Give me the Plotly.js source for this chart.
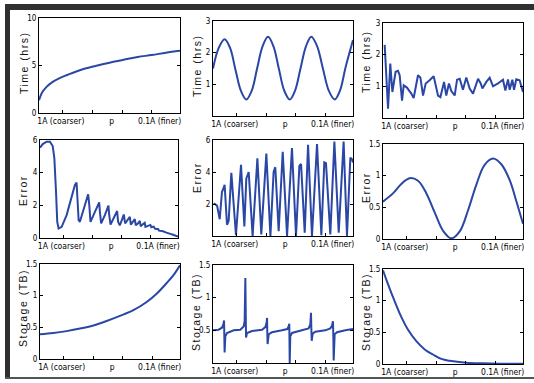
<!DOCTYPE html>
<html>
<head>
<meta charset="utf-8">
<script src="https://cdn.plot.ly/plotly-3.0.1.min.js"></script>
<style>
html,body{margin:0;padding:0;background:#fff;}
#chart{width:534px;height:383px;}
.annotation-text{letter-spacing:1.5px;}
.xtick text,.ytick text,.x2tick text,.y2tick text,.x3tick text,.y3tick text,.x4tick text,.y4tick text,.x5tick text,.y5tick text,.x6tick text,.y6tick text,.x7tick text,.y7tick text,.x8tick text,.y8tick text,.x9tick text,.y9tick text{font-stretch:condensed;}
</style>
</head>
<body>
<div id="chart"></div>
<script>
// ---------- data ----------
const xTickText = ['1A (coarser)', 'p', '0.1A (finer)'];
const xTickPos = [0.155, 0.515, 0.855];

const yTitles = ['Time (hrs)', 'Time (hrs)', 'Time (hrs)', 'Error', 'Error', 'Error', 'Storage (TB)', 'Storage (TB)', 'Storage (TB)'];

// Time, panel 1
const p1x = [0, 0.02, 0.05, 0.1, 0.15, 0.2, 0.3, 0.4, 0.5, 0.6, 0.7, 0.8, 0.9, 1.0];
const p1y = [1.35, 2.1, 2.7, 3.3, 3.7, 4.0, 4.55, 4.95, 5.3, 5.6, 5.9, 6.1, 6.35, 6.55];

// Time, panel 2
const p2x = [0, 0.041, 0.083, 0.122, 0.16, 0.199, 0.238, 0.277, 0.315, 0.354, 0.393, 0.432, 0.47, 0.509, 0.548, 0.586, 0.625, 0.664, 0.702, 0.744, 0.785, 0.827, 0.869, 0.907, 0.945, 0.975, 1.0];
const p2y = [1.5, 2.15, 2.42, 2.15, 1.47, 0.8, 0.52, 0.8, 1.5, 2.2, 2.5, 2.2, 1.5, 0.8, 0.52, 0.8, 1.5, 2.2, 2.5, 2.2, 1.5, 0.8, 0.52, 0.8, 1.5, 2.0, 2.4];

// Time, panel 3
const p3x = [0.012, 0.036, 0.052, 0.067, 0.09, 0.107, 0.119, 0.136, 0.148, 0.171, 0.202, 0.219, 0.25, 0.267, 0.286, 0.305, 0.333, 0.362, 0.393, 0.41, 0.436, 0.452, 0.471, 0.488, 0.512, 0.529, 0.548, 0.571, 0.595, 0.619, 0.643, 0.679, 0.698, 0.71, 0.738, 0.762, 0.786, 0.821, 0.857, 0.874, 0.893, 0.905, 0.924, 0.936, 0.952, 0.976, 1.0];
const p3y = [2.31, 0.29, 1.72, 0.82, 1.46, 1.49, 1.35, 0.55, 1.03, 0.96, 0.77, 0.63, 1.35, 1.28, 0.71, 1.09, 1.19, 1.32, 0.71, 0.66, 1.14, 0.71, 1.09, 0.85, 0.71, 1.21, 1.24, 0.89, 1.28, 0.93, 0.77, 1.24, 1.09, 0.93, 1.14, 1.27, 1.0, 1.09, 1.21, 0.87, 1.22, 0.89, 1.21, 0.89, 1.22, 1.19, 0.82];

// Error, panel 4
const p4x = [0, 0.02, 0.048, 0.072, 0.092, 0.104, 0.116, 0.125, 0.135, 0.157, 0.193, 0.229, 0.253, 0.265, 0.27, 0.28, 0.289, 0.325, 0.349, 0.357, 0.366, 0.398, 0.429, 0.434, 0.443, 0.47, 0.496, 0.501, 0.511, 0.542, 0.559, 0.566, 0.578, 0.598, 0.607, 0.617, 0.634, 0.651, 0.658, 0.675, 0.687, 0.694, 0.711, 0.723, 0.73, 0.747, 0.759, 0.764, 0.783, 0.8, 0.807, 0.824, 0.834, 0.855, 0.863, 0.892, 0.916, 0.928, 0.945, 0.964, 0.983, 1.0];
const p4y = [5.53, 5.75, 5.9, 5.9, 5.63, 4.9, 2.85, 0.99, 0.58, 0.68, 1.4, 2.53, 3.25, 3.4, 2.43, 1.09, 0.99, 1.92, 2.68, 2.02, 0.99, 1.6, 2.18, 1.6, 0.89, 1.4, 1.98, 1.44, 0.82, 1.36, 1.65, 0.99, 0.78, 1.2, 1.44, 0.89, 1.09, 1.3, 0.82, 0.99, 1.15, 0.78, 0.9, 1.05, 0.72, 0.85, 0.93, 0.68, 0.75, 0.8, 0.66, 0.7, 0.56, 0.55, 0.45, 0.41, 0.33, 0.31, 0.25, 0.2, 0.14, 0.08];

// Error, panel 5
const p5x = [0.005, 0.029, 0.048, 0.064, 0.076, 0.083, 0.1, 0.112, 0.131, 0.164, 0.2, 0.224, 0.238, 0.255, 0.283, 0.317, 0.345, 0.369, 0.381, 0.41, 0.433, 0.445, 0.469, 0.498, 0.529, 0.564, 0.593, 0.617, 0.629, 0.655, 0.679, 0.707, 0.743, 0.774, 0.795, 0.807, 0.838, 0.867, 0.898, 0.933, 0.957, 0.981, 0.993, 1.0];
const p5y = [2.05, 1.9, 1.05, 2.75, 3.0, 3.2, 0.7, 0.95, 3.95, 0.05, 4.45, 0.6, 3.6, 4.0, 0.0, 4.85, 0.1, 3.6, 5.15, 0.0, 4.0, 4.3, 0.3, 5.27, 0.0, 5.5, 0.0, 4.4, 4.5, 0.2, 5.7, 0.0, 5.75, 0.05, 4.6, 4.55, 0.1, 5.9, 0.2, 5.9, 0.0, 4.9, 4.8, 4.6];

// Error, panel 6
const p6x = [0, 0.071, 0.131, 0.19, 0.25, 0.31, 0.369, 0.429, 0.488, 0.548, 0.607, 0.667, 0.726, 0.786, 0.845, 0.905, 0.952, 1.0];
const p6y = [0.59, 0.72, 0.87, 0.96, 0.92, 0.72, 0.42, 0.13, 0.01, 0.12, 0.45, 0.86, 1.17, 1.27, 1.18, 0.93, 0.6, 0.24];

// Storage, panel 7
const p7x = [0, 0.095, 0.19, 0.286, 0.381, 0.476, 0.571, 0.667, 0.762, 0.833, 0.905, 0.952, 1.0];
const p7y = [0.39, 0.41, 0.44, 0.48, 0.53, 0.6, 0.68, 0.77, 0.9, 1.03, 1.2, 1.32, 1.48];

// Storage, panel 8
const p8x = [0, 0.04, 0.064, 0.074, 0.079, 0.081, 0.083, 0.088, 0.1, 0.148, 0.195, 0.219, 0.226, 0.231, 0.233, 0.236, 0.243, 0.279, 0.35, 0.374, 0.383, 0.386, 0.388, 0.39, 0.398, 0.421, 0.493, 0.531, 0.54, 0.545, 0.548, 0.552, 0.564, 0.636, 0.683, 0.695, 0.7, 0.702, 0.705, 0.712, 0.731, 0.802, 0.838, 0.85, 0.857, 0.86, 0.862, 0.869, 0.886, 0.945, 1.0];
const p8y = [0.5, 0.51, 0.54, 0.59, 0.65, 0.41, 0.16, 0.41, 0.46, 0.5, 0.51, 0.56, 0.64, 1.3, 0.82, 0.39, 0.46, 0.49, 0.51, 0.55, 0.62, 0.69, 0.46, 0.29, 0.44, 0.47, 0.5, 0.52, 0.56, 0.6, 0.0, 0.41, 0.46, 0.5, 0.53, 0.59, 0.77, 0.56, 0.34, 0.45, 0.48, 0.5, 0.53, 0.57, 0.64, 0.35, 0.04, 0.44, 0.47, 0.5, 0.52];

// Storage, panel 9
const p9x = [0, 0.029, 0.06, 0.119, 0.179, 0.238, 0.298, 0.357, 0.417, 0.476, 0.595, 0.714, 0.833, 1.0];
const p9y = [1.48, 1.3, 1.12, 0.8, 0.54, 0.36, 0.23, 0.15, 0.08, 0.05, 0.02, 0.01, 0.005, 0.005];

const yRanges = [[0, 10], [0, 3], [0, 3], [0, 6], [0, 6], [0, 1.5], [0, 1.5], [0, 1.5], [0, 1.5]];
const yTicks = [[0, 5, 10], [1, 2, 3], [1, 2, 3], [0, 2, 4, 6], [2, 4, 6], [0, 0.5, 1, 1.5], [0, 0.5, 1, 1.5], [0.5, 1, 1.5], [0, 0.5, 1, 1.5]];

// ---------- layout (pixel geometry) ----------
const W = 534, H = 383;
const boxes = [ // left, right, top, bottom (px)
  [39, 180, 18, 113], [213, 353, 21, 116], [383, 523, 23, 118],
  [40, 178, 140, 238], [213, 353, 140, 236], [383, 523, 144, 239],
  [40, 180, 264, 359], [213, 353, 265, 363], [383, 523, 269, 364]
];
const titlePos = [ // center x, center y (px)
  [24, 63], [197, 66], [366, 62],
  [23, 191], [197, 178], [366, 188],
  [23, 308], [196, 312], [366, 312]
];

const series = [[p1x, p1y], [p2x, p2y], [p3x, p3y], [p4x, p4y], [p5x, p5y], [p6x, p6y], [p7x, p7y], [p8x, p8y], [p9x, p9y]];
const smooth = [true, true, false, false, false, true, true, false, true];

const lineColor = '#2a47a5';
const tickFam = '"DejaVu Sans", "Liberation Sans", sans-serif';

const traces = [];
const layout = {
  width: W, height: H,
  margin: {l: 0, r: 0, t: 0, b: 0},
  paper_bgcolor: '#fff', plot_bgcolor: '#fff',
  showlegend: false,
  annotations: [], shapes: []
};

series.forEach((s, i) => {
  const n = i === 0 ? '' : String(i + 1);
  traces.push({
    x: s[0], y: s[1], type: 'scatter', mode: 'lines',
    xaxis: 'x' + n, yaxis: 'y' + n,
    line: {color: lineColor, width: 2, shape: smooth[i] ? 'spline' : 'linear', smoothing: 1},
    hoverinfo: 'skip'
  });
  const b = boxes[i];
  layout['xaxis' + n] = {
    domain: [b[0] / W, b[1] / W], range: [0, 1], anchor: 'y' + n,
    tickmode: 'array', tickvals: xTickPos, ticktext: xTickText,
    ticks: '', showgrid: false, zeroline: false,
    showline: true, linecolor: '#000', linewidth: 1, mirror: true,
    tickfont: {family: tickFam, size: 8.5, color: '#000'}, fixedrange: true,
    minor: {tickmode: 'array', tickvals: [0.17, 0.38, 0.59, 0.8], ticks: 'inside', ticklen: 3, tickcolor: '#000', showgrid: false}
  };
  layout['yaxis' + n] = {
    domain: [1 - b[3] / H, 1 - b[2] / H], range: yRanges[i], anchor: 'x' + n,
    tickmode: 'array', tickvals: yTicks[i], ticktext: yTicks[i].map(String),
    ticks: 'inside', ticklen: 3, tickcolor: '#000',
    showgrid: false, zeroline: false,
    showline: true, linecolor: '#000', linewidth: 1, mirror: 'ticks',
    tickfont: {family: tickFam, size: 8, color: '#000'}, fixedrange: true
  };
  layout.annotations.push({
    text: yTitles[i], xref: 'paper', yref: 'paper',
    x: titlePos[i][0] / W, y: 1 - titlePos[i][1] / H,
    xanchor: 'center', yanchor: 'middle', textangle: -90, showarrow: false,
    font: {family: '"Liberation Sans", Arial, sans-serif', size: 10.5, color: '#111'}
  });
});

// outer frame
layout.shapes.push(
  {type: 'rect', xref: 'paper', yref: 'paper', x0: 5 / W, x1: 1, y0: 1 - 10 / H, y1: 1 - 4 / H, fillcolor: '#303030', line: {width: 0}, layer: 'above'},
  {type: 'rect', xref: 'paper', yref: 'paper', x0: 5 / W, x1: 10 / W, y0: 1 - 379 / H, y1: 1 - 4 / H, fillcolor: '#303030', line: {width: 0}, layer: 'above'},
  {type: 'rect', xref: 'paper', yref: 'paper', x0: 5 / W, x1: 1, y0: 1 - 379 / H, y1: 1 - 377 / H, fillcolor: '#555', line: {width: 0}, layer: 'above'}
);

Plotly.newPlot('chart', traces, layout, {displayModeBar: false, staticPlot: true});
</script>
</body>
</html>
